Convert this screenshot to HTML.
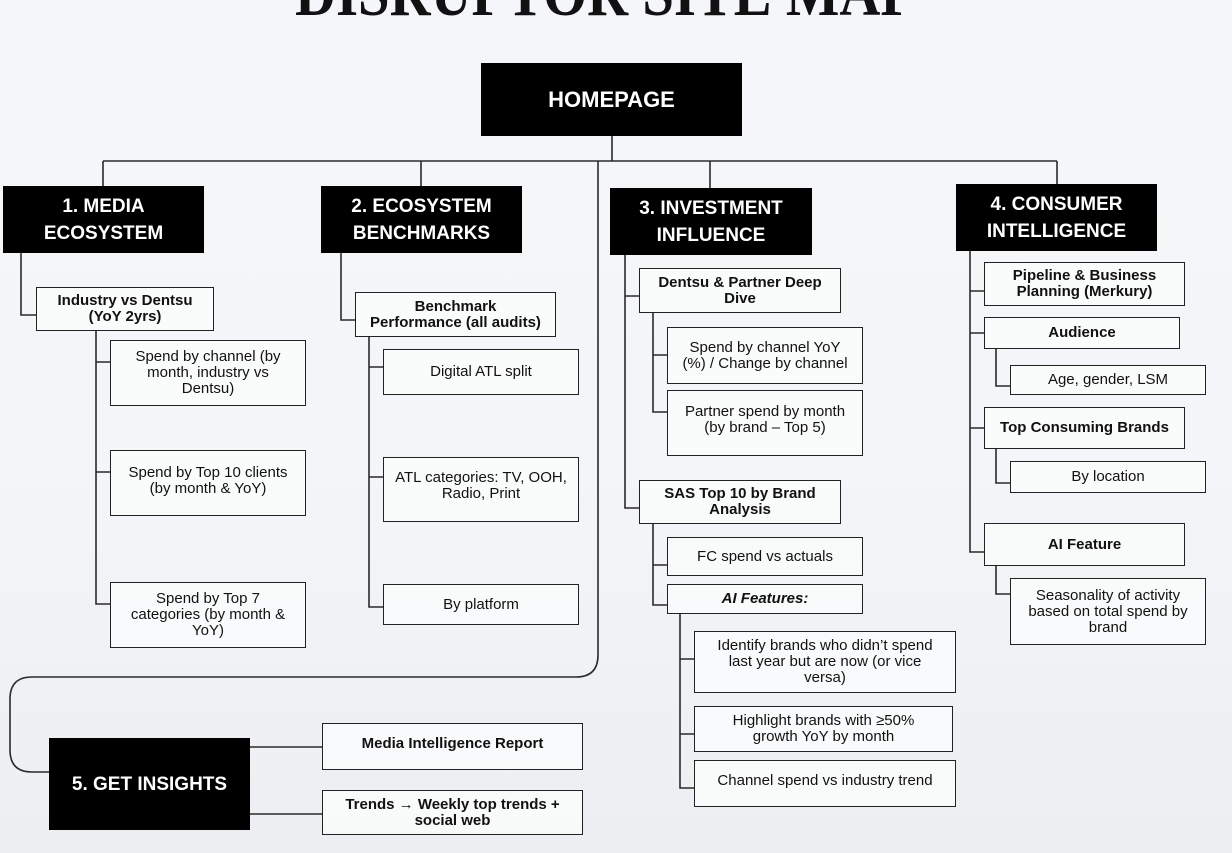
<!DOCTYPE html>
<html><head><meta charset="utf-8">
<style>
html,body{margin:0;padding:0}
body{width:1232px;height:853px;position:relative;overflow:hidden;background:linear-gradient(#f4f6f9 0%,#f3f5f8 55%,#eceef1 100%);font-family:"Liberation Sans",sans-serif;color:#111}
.b{position:absolute;box-sizing:border-box;border:1.6px solid #222;background:rgba(250,251,252,0.85);display:flex;align-items:center;justify-content:center;text-align:center;font-size:15px;line-height:16px;padding:0 10px}
.s{font-weight:bold;padding:0 6px}
.h{position:absolute;box-sizing:border-box;background:#000;color:#fff;font-weight:bold;display:flex;align-items:center;justify-content:center;text-align:center;font-size:19px;line-height:27px}
svg{position:absolute;left:0;top:0}
</style></head><body>
<svg width="1232" height="853">
<text x="605" y="15" text-anchor="middle" font-family="Liberation Serif" font-weight="bold" font-size="66" textLength="620" lengthAdjust="spacingAndGlyphs" fill="#111">DISRUPTOR SITE MAP</text>
<g stroke="#2a2a2a" stroke-width="1.6" fill="none">
<path d="M612 136V161M103 161H1057M103 161V186M421 161V186M710 161V188M1057 161V184"/>
<path d="M598 161V655Q598 677 576 677H32Q10 677 10 699V750Q10 772 32 772H49"/>
<path d="M21 253V315H36M96 331V604H110M96 362H110M96 472H110"/>
<path d="M341 253V320H355M369 337V607H383M369 367H383M369 477H383"/>
<path d="M625 255V508H639M625 296H639M653 313V412H667M653 355H667M653 524V605H667M653 565H667M680 614V788H694M680 659H694M680 734H694"/>
<path d="M970 251V552H984M970 291H984M970 333H984M970 428H984M996 349V386H1010M996 449V483H1010M996 566V594H1010"/>
<path d="M250 747H322M250 814H322"/>
</g>
</svg>
<div class="h" style="left:481px;top:63px;width:261px;height:73px;font-size:22px">HOMEPAGE</div>
<div class="h" style="left:3px;top:186px;width:201px;height:67px">1. MEDIA<br>ECOSYSTEM</div>
<div class="h" style="left:321px;top:186px;width:201px;height:67px">2. ECOSYSTEM<br>BENCHMARKS</div>
<div class="h" style="left:610px;top:188px;width:202px;height:67px">3. INVESTMENT<br>INFLUENCE</div>
<div class="h" style="left:956px;top:184px;width:201px;height:67px">4. CONSUMER<br>INTELLIGENCE</div>
<div class="h" style="left:49px;top:738px;width:201px;height:92px">5. GET INSIGHTS</div>

<div class="b s" style="left:36px;top:287px;width:178px;height:44px">Industry vs Dentsu<br>(YoY 2yrs)</div>
<div class="b" style="left:110px;top:340px;width:196px;height:66px;padding:0 12px">Spend by channel (by month, industry vs Dentsu)</div>
<div class="b" style="left:110px;top:450px;width:196px;height:66px;align-items:flex-start;padding-top:14px">Spend by Top 10 clients (by month &amp; YoY)</div>
<div class="b" style="left:110px;top:582px;width:196px;height:66px;padding:0 14px">Spend by Top 7 categories (by month &amp; YoY)</div>

<div class="b s" style="left:355px;top:292px;width:201px;height:45px">Benchmark<br>Performance (all audits)</div>
<div class="b" style="left:383px;top:349px;width:196px;height:46px">Digital ATL split</div>
<div class="b" style="left:383px;top:457px;width:196px;height:65px;align-items:flex-start;padding-top:12px">ATL categories: TV, OOH, Radio, Print</div>
<div class="b" style="left:383px;top:584px;width:196px;height:41px">By platform</div>

<div class="b s" style="left:639px;top:268px;width:202px;height:45px;align-items:flex-start;padding-top:6px">Dentsu &amp; Partner Deep Dive</div>
<div class="b" style="left:667px;top:327px;width:196px;height:57px;padding:0 2px">Spend by channel YoY<br>(%) / Change by channel</div>
<div class="b" style="left:667px;top:390px;width:196px;height:66px;align-items:flex-start;padding-top:13px">Partner spend by month<br>(by brand – Top 5)</div>
<div class="b s" style="left:639px;top:480px;width:202px;height:44px">SAS Top 10 by Brand<br>Analysis</div>
<div class="b" style="left:667px;top:537px;width:196px;height:39px">FC spend vs actuals</div>
<div class="b s" style="left:667px;top:584px;width:196px;height:30px;font-style:italic">AI Features:</div>
<div class="b" style="left:694px;top:631px;width:262px;height:62px;padding:0 4px">Identify brands who didn’t spend<br>last year but are now (or vice<br>versa)</div>
<div class="b" style="left:694px;top:706px;width:259px;height:46px;padding:0 22px">Highlight brands with ≥50% growth YoY by month</div>
<div class="b" style="left:694px;top:760px;width:262px;height:47px;align-items:flex-start;padding-top:12px">Channel spend vs industry trend</div>

<div class="b s" style="left:984px;top:262px;width:201px;height:44px">Pipeline &amp; Business<br>Planning (Merkury)</div>
<div class="b s" style="left:984px;top:317px;width:196px;height:32px">Audience</div>
<div class="b" style="left:1010px;top:365px;width:196px;height:30px">Age, gender, LSM</div>
<div class="b s" style="left:984px;top:407px;width:201px;height:42px">Top Consuming Brands</div>
<div class="b" style="left:1010px;top:461px;width:196px;height:32px">By location</div>
<div class="b s" style="left:984px;top:523px;width:201px;height:43px">AI Feature</div>
<div class="b" style="left:1010px;top:578px;width:196px;height:67px;padding:0 4px">Seasonality of activity<br>based on total spend by<br>brand</div>

<div class="b s" style="left:322px;top:723px;width:261px;height:47px;align-items:flex-start;padding-top:12px">Media Intelligence Report</div>
<div class="b s" style="left:322px;top:790px;width:261px;height:45px">Trends → Weekly top trends +<br>social web</div>
</body></html>
